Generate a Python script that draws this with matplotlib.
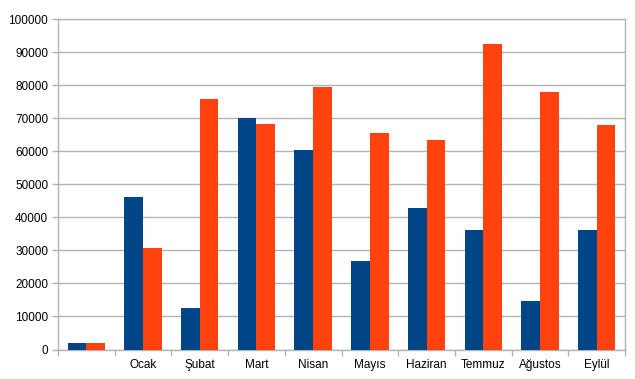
import matplotlib.pyplot as plt
import numpy as np

# categories and series values
months = ["", "Ocak", "Şubat", "Mart", "Nisan", "Mayıs", "Haziran", "Temmuz", "Ağustos", "Eylül"]
blue_vals = [2000, 46200, 12600, 69900, 60300, 26900, 42700, 36200, 14600, 36300]
orange_vals = [2000, 30600, 75900, 68100, 79300, 65500, 63400, 92300, 77900, 67900]
yticks = list(range(0, 100001, 10000))

plt.rcParams['font.family'] = ['Liberation Sans', 'DejaVu Sans']
plt.rcParams['font.size'] = 8.5

fig = plt.figure(figsize=(6.35, 3.79), dpi=100)
ax = fig.add_axes([58 / 635, 1 - 349.5 / 379, (625 - 58) / 635, (349.5 - 19) / 379])

x = np.arange(len(months))
w = 0.33
ax.bar(x - w / 2, blue_vals, width=w, color="#004586", zorder=3)
ax.bar(x + w / 2, orange_vals, width=w, color="#ff420e", zorder=3)

ax.set_xlim(-0.5, len(months) - 0.5)
ax.set_ylim(0, 100000)
ax.set_yticks(yticks)
ax.set_yticklabels([str(v) for v in yticks])
ax.yaxis.grid(True, color="#b3b3b3", linewidth=1, zorder=0)

# category labels centred, ticks on the boundaries
ax.set_xticks(x)
ax.set_xticklabels(months)
ax.tick_params(axis="x", length=0, pad=7)
ax.set_xticks(np.arange(-0.5, len(months)), minor=True)
ax.tick_params(axis="x", which="minor", length=4, color="#b3b3b3", width=1)
ax.tick_params(axis="y", length=4, color="#b3b3b3", width=1, pad=3)

for s in ax.spines.values():
    s.set_color("#b3b3b3")
    s.set_linewidth(1)

plt.savefig("out.png", dpi=100)
